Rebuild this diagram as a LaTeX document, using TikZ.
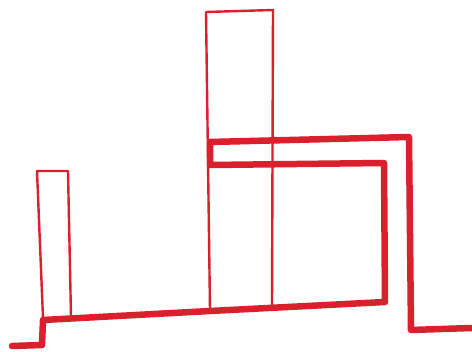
\documentclass[tikz,border=0pt]{standalone}
\definecolor{marker}{RGB}{218,32,44}
\tikzset{
  thinline/.style={draw=marker, line width=2.4pt, line join=round, line cap=round},
  thickline/.style={draw=marker, line width=6.5pt, line join=round, line cap=round}
}
\begin{document}
\begin{tikzpicture}[x=1pt,y=-1pt]
\useasboundingbox[fill=white] (0,0) rectangle (472,352);
% left narrow tower
\draw[thinline] (43,318) -- (37,171) -- (68,171) -- (71,317);
% tall middle tower with its two long legs
\draw[thinline] (210,310) -- (206,12) -- (273,10) -- (272,307);
% thick ground and overhanging frame
\draw[thickline] (12,346) -- (42,345) -- (43,320) -- (210,311) -- (385,302)
  -- (384,163) -- (210,165) -- (210,142) -- (409,137) -- (411,330) -- (472,328);
\end{tikzpicture}
\end{document}
